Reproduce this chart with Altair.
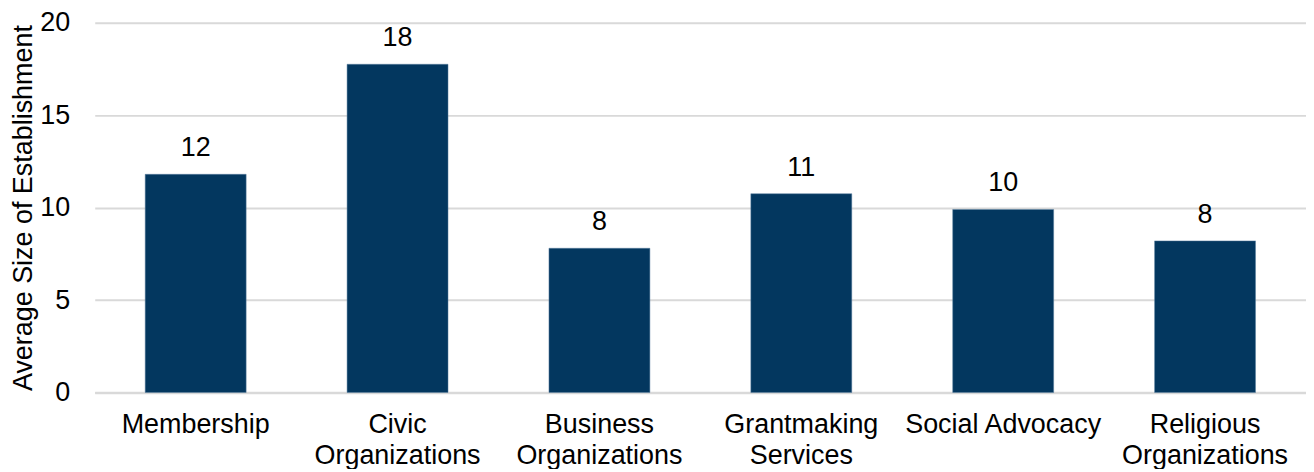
import altair as alt
import pandas as pd

categories = ["Membership", "Civic|Organizations", "Business|Organizations",
              "Grantmaking|Services", "Social Advocacy", "Religious|Organizations"]
values = [11.8, 17.75, 7.8, 10.75, 9.9, 8.2]
labels = ["12", "18", "8", "11", "10", "8"]

df = pd.DataFrame({"cat": categories, "val": values, "lab": labels})

FONT = "Liberation Sans"
FS = 27

base = alt.Chart(df).encode(
    x=alt.X("cat:N", sort=categories,
            scale=alt.Scale(paddingInner=0.5, paddingOuter=0.25),
            axis=alt.Axis(title=None, labelAngle=0, labelExpr="split(datum.label, '|')",
                          labelFont=FONT, labelFontSize=FS, labelColor="#000000",
                          labelPadding=19, labelLineHeight=31, labelLimit=400,
                          ticks=False, domainColor="#d9d9d9", domainWidth=2.5,
                          labelBaseline="top")),
)

bars = base.mark_bar(color="#03375F", stroke="#5b7fa0", strokeWidth=0.5).encode(
    y=alt.Y("val:Q", scale=alt.Scale(domain=[0, 20]),
            axis=alt.Axis(title="Average Size of Establishment", values=[0, 5, 10, 15, 20],
                          titleFont=FONT, titleFontSize=27, titleFontWeight="normal",
                          titleColor="#000000", titlePadding=2,
                          labelFont=FONT, labelFontSize=FS, labelColor="#000000",
                          labelPadding=25, ticks=False, domain=False,
                          gridColor="#d9d9d9", gridWidth=2))
)

text = base.mark_text(font=FONT, fontSize=FS, color="#000000", baseline="bottom", dy=-12).encode(
    y="val:Q", text="lab:N"
)

chart = (bars + text).properties(
    width=1215, height=371,
    autosize=alt.AutoSizeParams(type="none"),
    padding={"left": 87, "top": 14, "right": 0, "bottom": 76},
).configure_view(stroke=None)

chart.save("out.html", embed_options={"renderer": "svg", "actions": False})
